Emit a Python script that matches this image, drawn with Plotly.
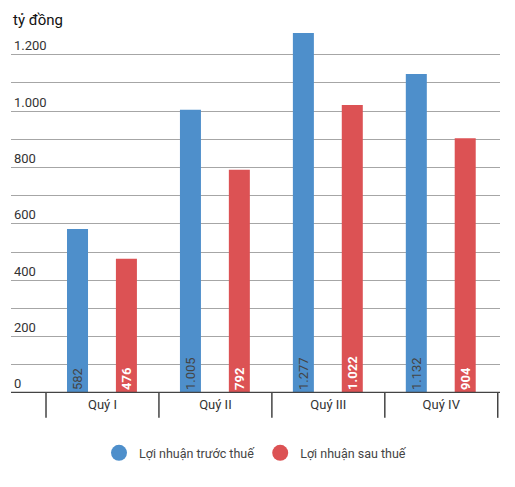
import plotly.graph_objects as go

quarters = ["Quý I", "Quý II", "Quý III", "Quý IV"]
truoc_thue = [582, 1005, 1277, 1132]
sau_thue = [476, 792, 1022, 904]
y_ticks = [0, 200, 400, 600, 800, 1000, 1200]

blue = "#4e8fcb"
red = "#dc5254"
idx = list(range(len(quarters)))

fig = go.Figure()

fig.add_trace(go.Bar(
    x=idx, y=truoc_thue, offset=-0.314, width=0.186,
    marker=dict(color=blue, line=dict(width=0)),
    text=truoc_thue, texttemplate="%{y:,}", textposition="inside",
    insidetextanchor="start", textangle=-90,
    textfont=dict(family="Roboto", size=13, color="#444444"),
    showlegend=False, hoverinfo="skip",
))
fig.add_trace(go.Bar(
    x=idx, y=sau_thue, offset=0.119, width=0.186,
    marker=dict(color=red, line=dict(width=0)),
    text=sau_thue, texttemplate="<b>%{y:,}</b>", textposition="inside",
    insidetextanchor="start", textangle=-90,
    textfont=dict(family="Roboto", size=13, color="white"),
    showlegend=False, hoverinfo="skip",
))

# legend entries with round markers
for name, col in [("Lợi nhuận trước thuế", blue), ("Lợi nhuận sau thuế", red)]:
    fig.add_trace(go.Scatter(
        x=[None], y=[None], mode="markers", name=name,
        marker=dict(symbol="circle", size=16, color=col),
    ))

# baseline and category dividers
fig.add_shape(type="line", xref="paper", yref="y", x0=0, x1=1, y0=0, y1=0,
              line=dict(color="#444444", width=2.5))
for i in range(len(quarters) + 1):
    fig.add_shape(type="line", xref="x", yref="paper", x0=i - 0.5, x1=i - 0.5,
                  y0=0, y1=-0.068, line=dict(color="#444444", width=1.5))

fig.add_annotation(text="tỷ đồng", xref="paper", yref="paper", x=0, y=1.022,
                   xanchor="left", yanchor="middle", showarrow=False,
                   font=dict(family="Roboto", size=15, color="#111111"))

# page body has an 8px margin, so the figure is a bit smaller and shifted
fig.update_layout(
    width=507, height=479,
    margin=dict(l=3, r=15, t=20, b=94, autoexpand=False),
    plot_bgcolor="white", paper_bgcolor="white",
    separators=",.",
    font=dict(family="Roboto", size=13, color="#333333"),
    barmode="overlay",
    xaxis=dict(range=[-0.81, 3.52], tickvals=idx, ticktext=quarters,
               showgrid=False, zeroline=False, showline=False, ticks="",
               automargin=False, ticklabelstandoff=2,
               tickfont=dict(size=13, color="#333333"), fixedrange=True),
    yaxis=dict(range=[0, 1295], tickvals=y_ticks, tickformat=",",
               ticklabelposition="inside top", showgrid=True,
               gridcolor="#a6a6a6", gridwidth=1.2, zeroline=False,
               showline=False, ticks="", automargin=False,
               minor=dict(dtick=100, showgrid=True, gridcolor="#a6a6a6", gridwidth=1.2),
               tickfont=dict(size=13, color="#333333"), fixedrange=True),
    legend=dict(orientation="h", x=0.5, xanchor="center", y=-0.165, yanchor="middle",
                font=dict(size=12.5, color="#444444"), itemwidth=30),
)

fig.write_html("out.html")
